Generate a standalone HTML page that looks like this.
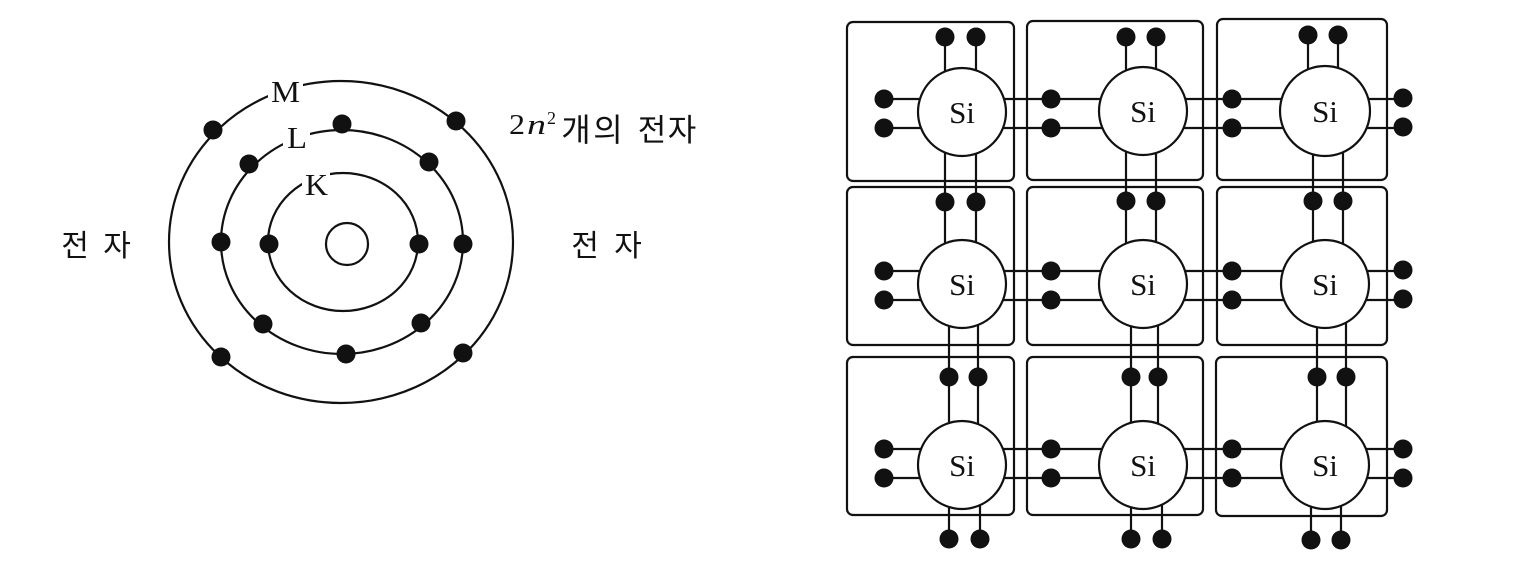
<!DOCTYPE html>
<html>
<head>
<meta charset="utf-8">
<style>
  html, body { margin:0; padding:0; background:#fff; }
  body { width:1536px; height:574px; overflow:hidden; }
  svg { display:block; }
  .ser { font-family: "Liberation Serif", "DejaVu Serif", serif; fill:#111; }
  .kr { font-family: "Liberation Sans", "Noto Sans CJK KR", "NanumGothic", sans-serif; fill:#111; }
</style>
</head>
<body>
<svg width="1536" height="574" viewBox="0 0 1536 574" xmlns="http://www.w3.org/2000/svg">
  <rect x="0" y="0" width="1536" height="574" fill="#fff"/>

  <!-- ===== Atom diagram ===== -->
  <g fill="none" stroke="#111" stroke-width="2.2">
    <ellipse cx="341" cy="242" rx="172" ry="161"/>
    <ellipse cx="342" cy="242" rx="121" ry="112"/>
    <ellipse cx="343" cy="242" rx="75" ry="69"/>
    <circle cx="347" cy="244" r="21"/>
  </g>
  <!-- label gaps -->
  <rect x="268" y="79" width="35" height="26" fill="#fff"/>
  <rect x="283" y="125" width="27" height="26" fill="#fff"/>
  <rect x="302" y="172" width="28" height="26" fill="#fff"/>
  <text class="ser" x="271" y="102" font-size="31" textLength="29" lengthAdjust="spacingAndGlyphs">M</text>
  <text class="ser" x="287" y="148" font-size="31" textLength="20" lengthAdjust="spacingAndGlyphs">L</text>
  <text class="ser" x="305" y="195" font-size="31" textLength="23" lengthAdjust="spacingAndGlyphs">K</text>

  <g fill="#111">
    <!-- M shell -->
    <circle cx="213" cy="130" r="9.5"/>
    <circle cx="456" cy="121" r="9.5"/>
    <circle cx="221" cy="357" r="9.5"/>
    <circle cx="463" cy="353" r="9.5"/>
    <!-- L shell -->
    <circle cx="342" cy="124" r="9.5"/>
    <circle cx="249" cy="164" r="9.5"/>
    <circle cx="429" cy="162" r="9.5"/>
    <circle cx="221" cy="242" r="9.5"/>
    <circle cx="463" cy="244" r="9.5"/>
    <circle cx="263" cy="324" r="9.5"/>
    <circle cx="421" cy="323" r="9.5"/>
    <circle cx="346" cy="354" r="9.5"/>
    <!-- K shell -->
    <circle cx="269" cy="244" r="9.5"/>
    <circle cx="419" cy="244" r="9.5"/>
  </g>

  <!-- Korean labels -->
  <text class="kr" x="75" y="256" font-size="30" text-anchor="middle">전</text>
  <text class="kr" x="117" y="256" font-size="30" text-anchor="middle">자</text>
  <text class="kr" x="585" y="256" font-size="30" text-anchor="middle">전</text>
  <text class="kr" x="628" y="256" font-size="30" text-anchor="middle">자</text>

  <text class="ser" x="509" y="134" font-size="29" textLength="16" lengthAdjust="spacingAndGlyphs">2</text>
  <text class="ser" x="527" y="134" font-size="29" font-style="italic" textLength="19" lengthAdjust="spacingAndGlyphs">n</text>
  <text class="ser" x="547" y="124" font-size="18">2</text>
  <text class="kr" x="576" y="141" font-size="32" text-anchor="middle">개</text>
  <text class="kr" x="608" y="141" font-size="32" text-anchor="middle">의</text>
  <text class="kr" x="652" y="141" font-size="31" text-anchor="middle">전</text>
  <text class="kr" x="682" y="141" font-size="31" text-anchor="middle">자</text>

  <!-- ===== Silicon lattice ===== -->
  <g fill="none" stroke="#111" stroke-width="2.2">
    <!-- horizontal bonds -->
    <path d="M884 99 H1403 M884 128 H1403 M884 271 H1403 M884 300 H1403 M884 449 H1403 M884 478 H1403"/>
    <!-- vertical bonds col0 -->
    <path d="M945 37 V284 M976 37 V284 M949 284 V539 M978 284 V465 M980 465 V539"/>
    <!-- col1 -->
    <path d="M1126 37 V284 M1156 37 V284 M1131 284 V539 M1158 284 V465 M1162 465 V539"/>
    <!-- col2 -->
    <path d="M1308 35 V111 M1338 35 V111 M1313 111 V284 M1343 111 V284 M1317 284 V465 M1346 284 V465 M1311 465 V540 M1341 465 V540"/>
    <!-- boxes -->
    <rect x="847" y="22" width="167" height="159" rx="6"/>
    <rect x="1027" y="21" width="176" height="159" rx="6"/>
    <rect x="1217" y="19" width="170" height="161" rx="6"/>
    <rect x="847" y="187" width="167" height="158" rx="6"/>
    <rect x="1027" y="187" width="176" height="158" rx="6"/>
    <rect x="1217" y="187" width="170" height="158" rx="6"/>
    <rect x="847" y="357" width="167" height="158" rx="6"/>
    <rect x="1027" y="357" width="176" height="158" rx="6"/>
    <rect x="1216" y="357" width="171" height="159" rx="6"/>
  </g>

  <!-- Si atoms -->
  <g fill="#fff" stroke="#111" stroke-width="2.2">
    <circle cx="962" cy="112" r="44"/>
    <circle cx="1143" cy="111" r="44"/>
    <circle cx="1325" cy="111" r="45"/>
    <circle cx="962" cy="284" r="44"/>
    <circle cx="1143" cy="284" r="44"/>
    <circle cx="1325" cy="284" r="44"/>
    <circle cx="962" cy="465" r="44"/>
    <circle cx="1143" cy="465" r="44"/>
    <circle cx="1325" cy="465" r="44"/>
  </g>
  <g class="ser" font-size="31" text-anchor="middle">
    <text x="962" y="123">Si</text>
    <text x="1143" y="122">Si</text>
    <text x="1325" y="122">Si</text>
    <text x="962" y="295">Si</text>
    <text x="1143" y="295">Si</text>
    <text x="1325" y="295">Si</text>
    <text x="962" y="476">Si</text>
    <text x="1143" y="476">Si</text>
    <text x="1325" y="476">Si</text>
  </g>

  <!-- electrons -->
  <g fill="#111">
    <!-- top row -->
    <circle cx="945" cy="37" r="9.5"/><circle cx="976" cy="37" r="9.5"/>
    <circle cx="1126" cy="37" r="9.5"/><circle cx="1156" cy="37" r="9.5"/>
    <circle cx="1308" cy="35" r="9.5"/><circle cx="1338" cy="35" r="9.5"/>
    <!-- row1 top -->
    <circle cx="945" cy="202" r="9.5"/><circle cx="976" cy="202" r="9.5"/>
    <circle cx="1126" cy="201" r="9.5"/><circle cx="1156" cy="201" r="9.5"/>
    <circle cx="1313" cy="201" r="9.5"/><circle cx="1343" cy="201" r="9.5"/>
    <!-- row2 top -->
    <circle cx="949" cy="377" r="9.5"/><circle cx="978" cy="377" r="9.5"/>
    <circle cx="1131" cy="377" r="9.5"/><circle cx="1158" cy="377" r="9.5"/>
    <circle cx="1317" cy="377" r="9.5"/><circle cx="1346" cy="377" r="9.5"/>
    <!-- bottom -->
    <circle cx="949" cy="539" r="9.5"/><circle cx="980" cy="539" r="9.5"/>
    <circle cx="1131" cy="539" r="9.5"/><circle cx="1162" cy="539" r="9.5"/>
    <circle cx="1311" cy="540" r="9.5"/><circle cx="1341" cy="540" r="9.5"/>
    <!-- left/right electrons row0 -->
    <circle cx="884" cy="99" r="9.5"/><circle cx="884" cy="128" r="9.5"/>
    <circle cx="1051" cy="99" r="9.5"/><circle cx="1051" cy="128" r="9.5"/>
    <circle cx="1232" cy="99" r="9.5"/><circle cx="1232" cy="128" r="9.5"/>
    <circle cx="1403" cy="98" r="9.5"/><circle cx="1403" cy="127" r="9.5"/>
    <!-- row1 -->
    <circle cx="884" cy="271" r="9.5"/><circle cx="884" cy="300" r="9.5"/>
    <circle cx="1051" cy="271" r="9.5"/><circle cx="1051" cy="300" r="9.5"/>
    <circle cx="1232" cy="271" r="9.5"/><circle cx="1232" cy="300" r="9.5"/>
    <circle cx="1403" cy="270" r="9.5"/><circle cx="1403" cy="299" r="9.5"/>
    <!-- row2 -->
    <circle cx="884" cy="449" r="9.5"/><circle cx="884" cy="478" r="9.5"/>
    <circle cx="1051" cy="449" r="9.5"/><circle cx="1051" cy="478" r="9.5"/>
    <circle cx="1232" cy="449" r="9.5"/><circle cx="1232" cy="478" r="9.5"/>
    <circle cx="1403" cy="449" r="9.5"/><circle cx="1403" cy="478" r="9.5"/>
  </g>
</svg>
</body>
</html>
